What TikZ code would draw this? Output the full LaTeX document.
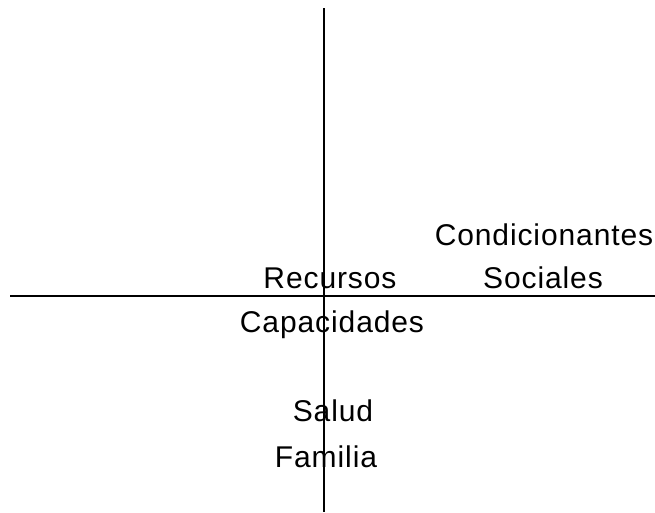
\documentclass[tikz,border=0pt]{standalone}
\usepackage{fontspec}
\setmainfont{Liberation Sans}[LetterSpace=3]
\usepackage{tikz}
\usetikzlibrary{positioning}

\tikzstyle{axis} = [line width=1.5pt, black]
\tikzstyle{label} = [anchor=base, inner sep=0pt, font=\fontsize{30}{36}\selectfont]

\begin{document}
\begin{tikzpicture}[x=1pt,y=-1pt]
      \useasboundingbox (0,0) rectangle (655,512);

      \coordinate (top)    at (324,8);
      \coordinate (bottom) at (324,512);
      \coordinate (left)   at (10,296);
      \coordinate (right)  at (655,296);

      \node[label] (cond)  at (544,245) {Condicionantes};
      \node[label] (soc)   at (543,288) {Sociales};
      \node[label] (rec)   at (330,288) {Recursos};
      \node[label] (cap)   at (332,332) {Capacidades};
      \node[label] (salud) at (333,421) {Salud};
      \node[label] (fam)   at (326,467) {Familia};

      \draw[axis] (top) -- (bottom);
      \draw[axis] (left) -- (right);

\end{tikzpicture}
\end{document}
